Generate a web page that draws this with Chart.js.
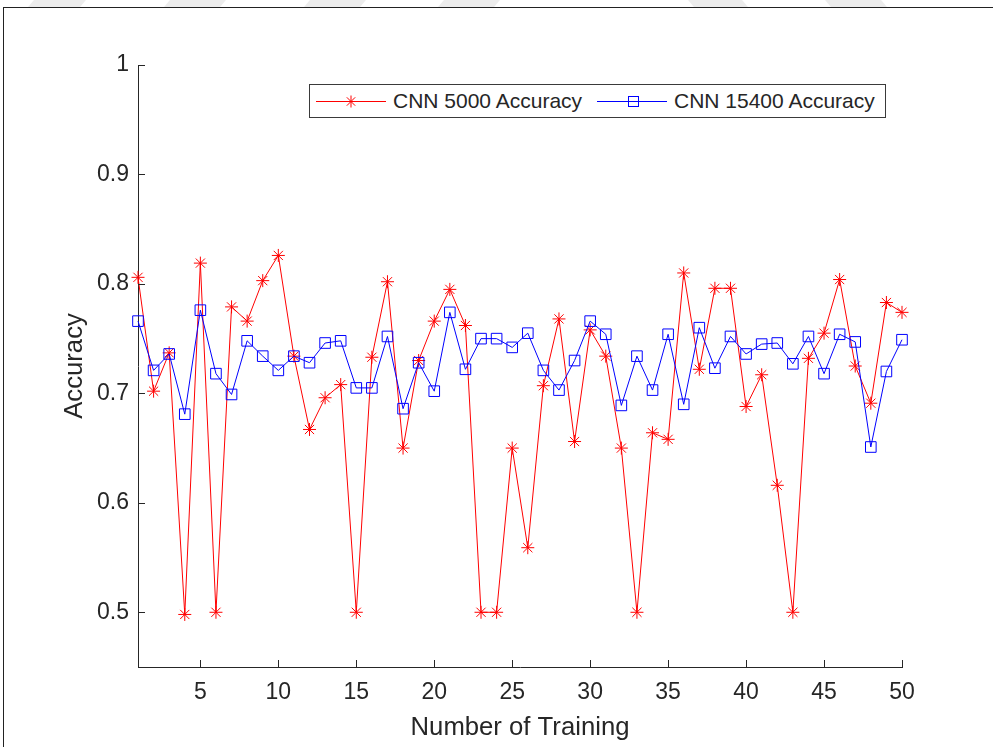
<!DOCTYPE html>
<html>
<head>
<meta charset="utf-8">
<script src="https://cdn.jsdelivr.net/npm/chart.js@4.4.1/dist/chart.umd.min.js"></script>
<style>
  html, body { margin: 0; padding: 0; background: #fff; }
  #wrap { position: relative; width: 993px; height: 747px; overflow: hidden; background: #fff; }
  #c { position: absolute; left: 0; top: 0; }
  #frame { position: absolute; left: 3px; top: 7px; width: 1000px; height: 760px;
           border-left: 1.5px solid #222; border-top: 1.5px solid #222; pointer-events: none; }
  .wm { position: absolute; top: 0; height: 7px; background: #ececec; }
  #legend { position: absolute; left: 309px; top: 84px; width: 575px; height: 32px;
            border: 1px solid #3a3a3a; background: #fff;
            font-family: "Liberation Sans", Arial, sans-serif; font-size: 21px; color: #262626; }
  #legend span { position: absolute; top: 4px; line-height: 24px; white-space: nowrap; }
  #legend svg { position: absolute; top: 0; left: 0; }
</style>
</head>
<body>
<div id="wrap">
  <div class="wm" style="left:31px;width:52px;transform:skewX(-40deg);"></div>
  <div class="wm" style="left:167px;width:56px;transform:skewX(-40deg);"></div>
  <div class="wm" style="left:307px;width:56px;transform:skewX(-40deg);"></div>
  <div class="wm" style="left:441px;width:56px;transform:skewX(-40deg);"></div>
  <div class="wm" style="left:691px;width:54px;transform:skewX(40deg);"></div>
  <div class="wm" style="left:828px;width:56px;transform:skewX(40deg);"></div>
  <div id="frame"></div>
  <canvas id="c" width="993" height="747"></canvas>
  <div id="legend">
    <svg width="575" height="32">
      <line x1="6" y1="16.5" x2="76" y2="16.5" stroke="#ff0000" stroke-width="1"/>
      <g stroke="#ff0000" stroke-width="1">
        <line x1="35" y1="16.5" x2="47" y2="16.5"/>
        <line x1="41" y1="10.5" x2="41" y2="22.5"/>
        <line x1="36.8" y1="12.3" x2="45.2" y2="20.7"/>
        <line x1="36.8" y1="20.7" x2="45.2" y2="12.3"/>
      </g>
      <line x1="287" y1="16.5" x2="357" y2="16.5" stroke="#0000ff" stroke-width="1"/>
      <rect x="318.5" y="11.5" width="10" height="10" fill="none" stroke="#0000ff" stroke-width="1"/>
    </svg>
    <span style="left:83px;">CNN 5000 Accuracy</span>
    <span style="left:364px;">CNN 15400 Accuracy</span>
  </div>
</div>
<script>
// ---- data ----
const trainingRuns = [1,2,3,4,5,6,7,8,9,10,11,12,13,14,15,16,17,18,19,20,21,22,23,24,25,
                      26,27,28,29,30,31,32,33,34,35,36,37,38,39,40,41,42,43,44,45,46,47,48,49,50];
const cnn5000Accuracy = [0.806,0.702,0.737,0.498,0.819,0.500,0.779,0.766,0.803,0.826,
                         0.734,0.667,0.696,0.708,0.500,0.733,0.802,0.650,0.730,0.766,
                         0.795,0.762,0.500,0.500,0.650,0.559,0.707,0.768,0.656,0.758,
                         0.734,0.650,0.500,0.664,0.658,0.810,0.722,0.796,0.796,0.688,
                         0.717,0.616,0.500,0.732,0.755,0.804,0.725,0.691,0.783,0.774];
const cnn15400Accuracy = [0.766,0.721,0.736,0.681,0.776,0.718,0.699,0.748,0.734,0.721,
                          0.734,0.728,0.746,0.748,0.705,0.705,0.752,0.686,0.728,0.702,
                          0.774,0.722,0.750,0.750,0.742,0.755,0.721,0.703,0.730,0.766,
                          0.754,0.689,0.734,0.703,0.754,0.690,0.760,0.723,0.752,0.736,
                          0.745,0.746,0.727,0.752,0.718,0.754,0.747,0.651,0.720,0.749];
const xTickValues = [5,10,15,20,25,30,35,40,45,50];
const yTickValues = [0.5,0.6,0.7,0.8,0.9,1];
const seriesNames = ['CNN 5000 Accuracy', 'CNN 15400 Accuracy'];
const xTitle = 'Number of Training';
const yTitle = 'Accuracy';

const FONT = '"Liberation Sans", Arial, sans-serif';
const AX = '#262626';

const inwardTicks = {
  id: 'inwardTicks',
  afterDraw(chart) {
    const {ctx, chartArea: a, scales: {x, y}} = chart;
    ctx.save();
    ctx.strokeStyle = AX;
    ctx.lineWidth = 1;
    ctx.beginPath();
    xTickValues.forEach(v => {
      const px = Math.round(x.getPixelForValue(v)) + 0.5;
      ctx.moveTo(px, a.bottom); ctx.lineTo(px, a.bottom - 7);
    });
    yTickValues.forEach(v => {
      const py = Math.round(y.getPixelForValue(v)) + 0.5;
      ctx.moveTo(a.left, py); ctx.lineTo(a.left + 7, py);
    });
    ctx.stroke();
    ctx.restore();
  }
};

new Chart(document.getElementById('c'), {
  type: 'line',
  data: {
    datasets: [
      {
        label: seriesNames[0],
        data: trainingRuns.map((t, i) => ({x: t, y: cnn5000Accuracy[i]})),
        borderColor: '#ff0000',
        backgroundColor: 'rgba(0,0,0,0)',
        borderWidth: 1,
        pointStyle: 'star',
        pointRadius: 6.5,
        pointBorderWidth: 1,
        pointBorderColor: '#ff0000',
        tension: 0,
        clip: false,
        order: 1
      },
      {
        label: seriesNames[1],
        data: trainingRuns.map((t, i) => ({x: t, y: cnn15400Accuracy[i]})),
        borderColor: '#0000ff',
        backgroundColor: 'rgba(0,0,0,0)',
        borderWidth: 1,
        pointStyle: 'rect',
        pointRadius: 7.5,
        pointBorderWidth: 1,
        pointBorderColor: '#0000ff',
        pointBackgroundColor: 'rgba(0,0,0,0)',
        tension: 0,
        clip: false,
        order: 0
      }
    ]
  },
  options: {
    responsive: false,
    animation: false,
    devicePixelRatio: 1,
    layout: { padding: { left: 0, top: 65, right: 91, bottom: 0 } },
    plugins: { legend: { display: false }, tooltip: { enabled: false } },
    elements: { line: { borderJoinStyle: 'miter' } },
    scales: {
      x: {
        type: 'linear',
        min: 1, max: 50,
        afterBuildTicks(s) { s.ticks = xTickValues.map(v => ({value: v})); },
        afterFit(s) { s.height = 80; },
        grid: { display: true, drawOnChartArea: false, drawTicks: false },
        border: { display: true, color: AX, width: 1 },
        ticks: { color: AX, font: { family: FONT, size: 23 }, padding: 12, maxRotation: 0,
                 callback: v => String(v) },
        title: { display: true, text: xTitle, color: AX,
                 font: { family: FONT, size: 25.7 }, padding: { top: 0, bottom: 4 } }
      },
      y: {
        type: 'linear',
        min: 0.45, max: 1,
        afterBuildTicks(s) { s.ticks = yTickValues.map(v => ({value: v})); },
        afterFit(s) { s.width = 138; },
        grid: { display: true, drawOnChartArea: false, drawTicks: false },
        border: { display: true, color: AX, width: 1 },
        ticks: { color: AX, font: { family: FONT, size: 23 }, padding: 9,
                 callback: v => String(Math.round(v * 10) / 10) },
        title: { display: true, text: yTitle, color: AX,
                 font: { family: FONT, size: 25.7 }, padding: { top: 59.6, bottom: 0 } }
      }
    }
  },
  plugins: [inwardTicks]
});
</script>
</body>
</html>
